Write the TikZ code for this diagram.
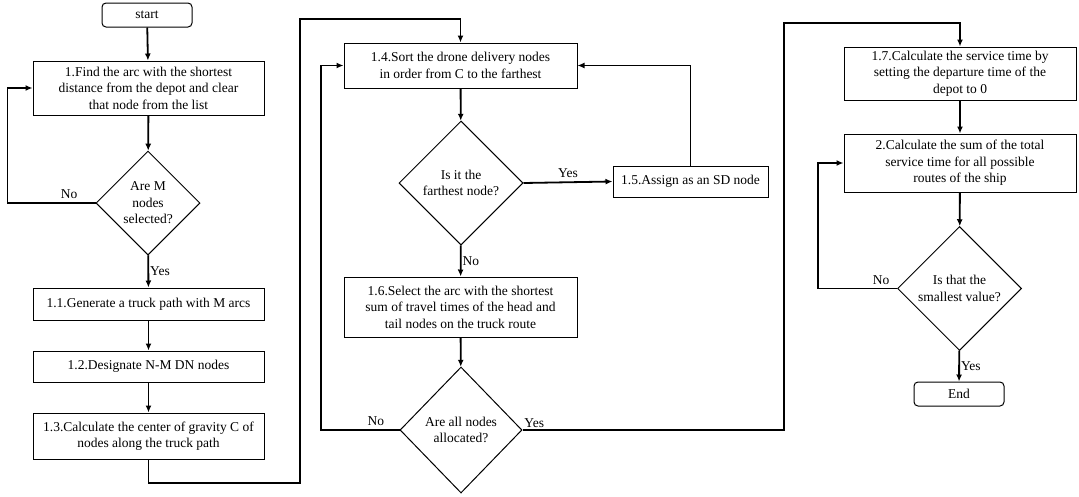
\documentclass[tikz,border=0pt]{standalone}
\usepackage{fontspec}
\setmainfont{Liberation Serif}
\usetikzlibrary{shapes.geometric,arrows.meta,positioning}

\tikzset{
  block/.style={draw,line width=1pt,align=center,inner sep=2pt},
  term/.style={draw,line width=1pt,rounded corners=4pt,align=center},
  decide/.style={draw,diamond,line width=1pt,align=center,inner sep=0pt},
  flow/.style={line width=1.8pt,->},
}

\begin{document}
\begin{tikzpicture}[x=1pt,y=-1pt,font=\fontsize{13.5}{16.5}\selectfont,
    >={Latex[length=7pt,width=6pt]}]
    \useasboundingbox (0,0) rectangle (1079,496);

    % first column
    \node[term,minimum width=90,minimum height=24] (start) at (147,15) {start};
    \node[block,minimum width=231,minimum height=54] (find) at (148.5,88)
        {1.Find the arc with the shortest\\distance from the depot and clear\\that node from the list};
    \node[decide,minimum width=104,minimum height=104] (selM) at (148,203) {Are M\\nodes\\selected?};
    \node[block,minimum width=231,minimum height=32] (path) at (148.5,304) {1.1.Generate a truck path with M arcs};
    \node[block,minimum width=231,minimum height=31] (desig) at (148.5,366.5) {1.2.Designate N-M DN nodes};
    \node[block,minimum width=231,minimum height=46] (grav) at (148.5,436)
        {1.3.Calculate the center of gravity C of\\nodes along the truck path};

    % second column
    \node[block,minimum width=233,minimum height=45] (sort) at (460.5,65.5)
        {1.4.Sort the drone delivery nodes\\in order from C to the farthest};
    \node[decide,minimum width=124,minimum height=124] (far) at (461,183) {Is it the\\farthest node?};
    \node[block,minimum width=155,minimum height=31] (sd) at (690.5,181.5) {1.5.Assign as an SD node};
    \node[block,minimum width=233,minimum height=60] (sel) at (460.5,307)
        {1.6.Select the arc with the shortest\\sum of travel times of the head and\\tail nodes on the truck route};
    \node[decide,minimum width=122,minimum height=126] (alloc) at (461,430) {Are all nodes\\allocated?};

    % third column
    \node[block,minimum width=232,minimum height=53] (serv) at (960,73.5)
        {1.7.Calculate the service time by\\setting the departure time of the\\depot to 0};
    \node[block,minimum width=232,minimum height=58] (total) at (960,163)
        {2.Calculate the sum of the total\\service time for all possible\\routes of the ship};
    \node[decide,minimum width=124,minimum height=124] (small) at (959.5,288.5) {Is that the\\smallest value?};
    \node[term,minimum width=90,minimum height=24] (end) at (959,394) {End};

    % bends of the long connectors
    \coordinate (low1) at (300,483);
    \coordinate (top1) at (300,19);
    \coordinate (lft) at (321,0);
    \coordinate (rgt) at (784,23);

    \draw[flow] (start) -- (find);
    \draw[flow] (find) -- (selM);
    \draw[flow] (selM) -- node[right,inner sep=1pt]{Yes} (path);
    \draw[flow] (selM.west) -- node[above,pos=0.3]{No} ++(-88,0) |- (find.west);
    \draw[flow] (path) -- (desig);
    \draw[flow] (desig) -- (grav);
    \draw[flow] (grav.south) |- (low1) -- (top1) -| (sort.north);

    \draw[flow] (sort) -- (far);
    \draw[flow] (far.east) -- node[above]{Yes} (sd.west);
    \draw[flow] (sd.north) |- (sort.east);
    \draw[flow] (far) -- node[right,inner sep=1pt]{No} (sel);
    \draw[flow] (sel) -- (alloc);
    \draw[flow] (alloc.west) -- node[above,pos=0.3]{No} (alloc.west -| lft) |- (sort.west);
    \draw[flow] (alloc.east) -- node[above right,pos=0,inner sep=1pt]{Yes} (alloc.east -| rgt) -- (rgt) -| (serv.north);

    \draw[flow] (serv) -- (total);
    \draw[flow] (total) -- (small);
    \draw[flow] (small.west) -- node[above,pos=0.2]{No} ++(-79,0) |- (total.west);
    \draw[flow] (small) -- node[right,inner sep=1pt]{Yes} (end);
\end{tikzpicture}
\end{document}
